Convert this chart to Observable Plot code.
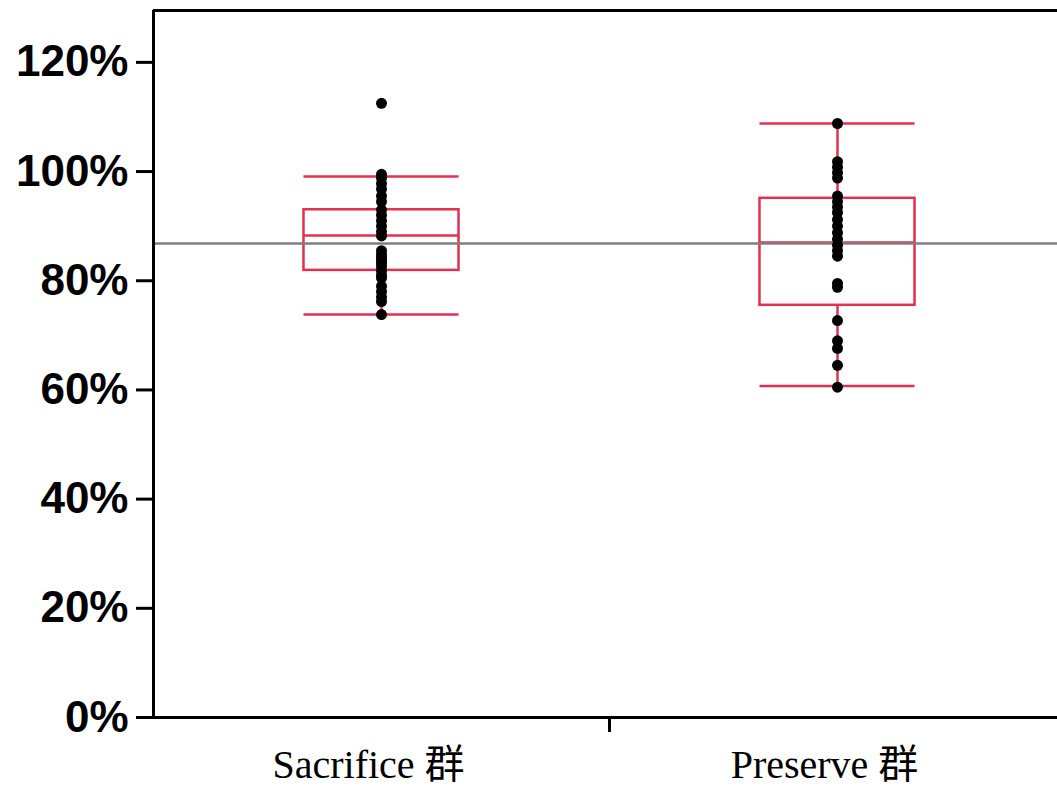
<!DOCTYPE html>
<html>
<head>
<meta charset="utf-8">
<script src="https://cdn.jsdelivr.net/npm/d3@7"></script>
<script src="https://cdn.jsdelivr.net/npm/@observablehq/plot@0.6"></script>
<style>
  html, body { margin: 0; padding: 0; background: #fff; }
  #chart svg { display: block; overflow: hidden; }
</style>
</head>
<body>
<div id="chart"></div>
<script>
// ---- Data ----
const categories = ["Sacrifice 群", "Preserve 群"];
const sacrificeValues = [
  1.125,
  0.995, 0.988, 0.978, 0.968, 0.955, 0.945, 0.930, 0.920, 0.910, 0.900, 0.890, 0.882,
  0.855, 0.848, 0.842, 0.837, 0.832, 0.826, 0.818, 0.810, 0.805,
  0.790, 0.780, 0.770, 0.762, 0.738
];
const preserveValues = [
  1.088,
  1.018, 1.008, 0.998, 0.988,
  0.955, 0.945, 0.935, 0.925, 0.912, 0.900, 0.888, 0.876, 0.865, 0.855, 0.845,
  0.795, 0.788,
  0.727, 0.690, 0.676, 0.645, 0.605
];
const boxQ1 = [0.819, 0.755];
const boxMedian = [0.883, 0.870];
const boxQ3 = [0.930, 0.951];
const whiskerLow = [0.738, 0.607];
const whiskerHigh = [0.991, 1.088];
const referenceLine = 0.868;
const yTicks = [0, 0.2, 0.4, 0.6, 0.8, 1.0, 1.2];

// ---- Tables built from the arrays ----
const seriesValues = [sacrificeValues, preserveValues];
const boxes = categories.map((c, i) => ({
  category: c, pos: i + 0.5,
  q1: boxQ1[i], median: boxMedian[i], q3: boxQ3[i],
  lo: whiskerLow[i], hi: whiskerHigh[i]
}));
const points = categories.flatMap((c, i) =>
  seriesValues[i].map(v => ({category: c, pos: i + 0.5, value: v})));

const red = "#e3304f";
const halfW = 0.17;
const sw = 2.5;

const chart = Plot.plot({
  width: 1057,
  height: 787,
  marginTop: 10,
  marginBottom: 70,
  marginLeft: 153,
  marginRight: -8,
  style: {background: "#fff", color: "#000"},
  x: {domain: [0, categories.length], axis: null},
  y: {domain: [0, 1.295], axis: null},
  marks: [
    // boxes
    Plot.rect(boxes, {x1: d => d.pos - halfW, x2: d => d.pos + halfW, y1: "q1", y2: "q3",
      fill: "none", stroke: red, strokeWidth: sw}),
    Plot.ruleX(boxes, {x: "pos", y1: "q3", y2: "hi", stroke: red, strokeWidth: sw}),
    Plot.ruleX(boxes, {x: "pos", y1: "lo", y2: "q1", stroke: red, strokeWidth: sw}),
    Plot.ruleY(boxes, {y: "hi", x1: d => d.pos - halfW, x2: d => d.pos + halfW, stroke: red, strokeWidth: sw}),
    Plot.ruleY(boxes, {y: "lo", x1: d => d.pos - halfW, x2: d => d.pos + halfW, stroke: red, strokeWidth: sw}),
    Plot.ruleY(boxes, {y: "median", x1: d => d.pos - halfW, x2: d => d.pos + halfW, stroke: red, strokeWidth: sw}),
    // reference line
    Plot.ruleY([referenceLine], {stroke: "#7f7f7f", strokeWidth: 2.5}),
    // points
    Plot.dot(points, {x: "pos", y: "value", r: 5.5, fill: "#000", stroke: "none"}),
    // frame lines (left, top, bottom)
    Plot.ruleX([0], {stroke: "#000", strokeWidth: 3}),
    Plot.ruleY([1.295], {stroke: "#000", strokeWidth: 3}),
    Plot.ruleY([0], {stroke: "#000", strokeWidth: 3}),
    // axes
    Plot.axisY({ticks: yTicks, tickFormat: d => Math.round(d * 100) + "%",
      tickSize: 17, tickPadding: 8, strokeWidth: 3, fontSize: 44, fontWeight: "bold",
      fontFamily: "Liberation Sans, Arial, sans-serif", label: null}),
    Plot.axisX({ticks: [1], tickSize: 15, strokeWidth: 3, tickFormat: () => "", label: null}),
    Plot.axisX({ticks: categories.map((c, i) => i + 0.5), tickSize: 0, tickPadding: 32, dx: -13,
      tickFormat: d => categories[Math.floor(d)], fontSize: 40,
      fontFamily: "Liberation Serif, 'Times New Roman', 'Noto Sans CJK SC', serif", label: null})
  ]
});
document.getElementById("chart").appendChild(chart);
</script>
</body>
</html>
